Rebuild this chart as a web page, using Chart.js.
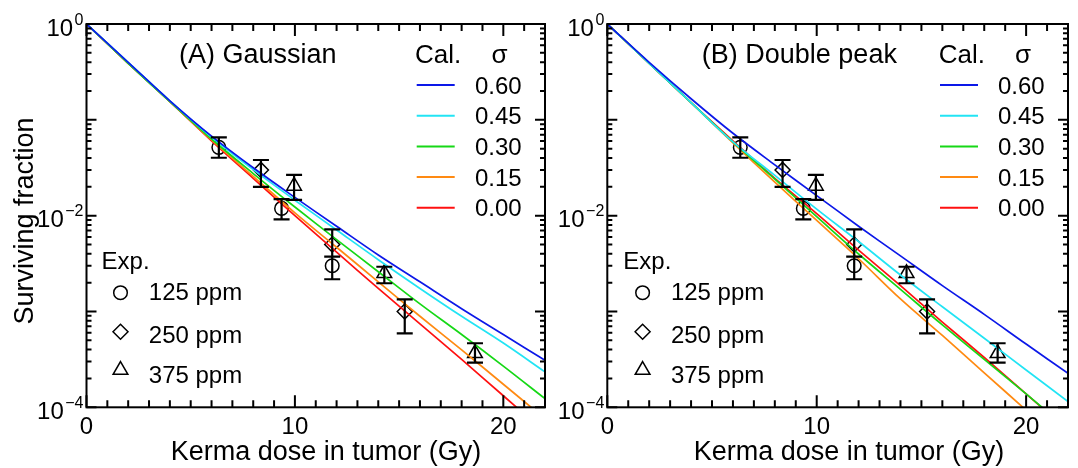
<!DOCTYPE html>
<html>
<head>
<meta charset="utf-8">
<script src="https://cdn.jsdelivr.net/npm/chart.js@4.4.1/dist/chart.umd.min.js"></script>
<style>
html, body { margin: 0; padding: 0; background: #fff; }
#wrap { position: relative; width: 1078px; height: 468px; overflow: hidden; }
.panel { position: absolute; top: 0; height: 468px; }
#pa { left: 0; width: 555px; }
#pb { left: 555px; width: 523px; }
</style>
</head>
<body>
<div id="wrap">
  <div class="panel" id="pa"><canvas id="chartA"></canvas></div>
  <div class="panel" id="pb"><canvas id="chartB"></canvas></div>
</div>
<script>
// kerma dose (Gy) where the calculated curves were read
var dose = [0, 2, 4, 6, 8, 10, 12, 14, 16, 18, 20, 22];
var sigmaLabels = ['0.60', '0.45', '0.30', '0.15', '0.00'];
var sigmaColors = ['#0c18e8', '#22e4f4', '#16d816', '#ff8a12', '#ff1010'];

// (A) Gaussian, surviving fraction per sigma
var gauss060 = [1, 0.398, 0.158, 0.0676, 0.0316, 0.0155, 0.00776, 0.00389, 0.00204, 0.00107, 0.000575, 0.000309];
var gauss045 = [1, 0.398, 0.158, 0.0661, 0.0302, 0.0145, 0.00708, 0.00347, 0.00174, 0.000891, 0.000468, 0.000234];
var gauss030 = [1, 0.389, 0.155, 0.0631, 0.0275, 0.0123, 0.00562, 0.0026, 0.0012, 0.000575, 0.000269, 0.000123];
var gauss015 = [1, 0.389, 0.155, 0.0617, 0.0257, 0.0107, 0.00468, 0.00204, 0.000891, 0.000398, 0.000174, 0.0000759];
var gauss000 = [1, 0.389, 0.155, 0.0603, 0.0245, 0.0100, 0.00417, 0.00174, 0.000741, 0.000316, 0.000132, 0.0000550];

// (B) Double peak
var double060 = [1, 0.398, 0.166, 0.0724, 0.0339, 0.0162, 0.00776, 0.0038, 0.00186, 0.000933, 0.000457, 0.000226];
var double045 = [1, 0.389, 0.151, 0.0589, 0.0263, 0.0117, 0.00537, 0.0024, 0.00112, 0.000525, 0.000245, 0.000115];
var double030 = [1, 0.389, 0.151, 0.0589, 0.0240, 0.00977, 0.00398, 0.0017, 0.000724, 0.000316, 0.000138, 0.0000589];
var double015 = [1, 0.389, 0.151, 0.0575, 0.0224, 0.00891, 0.00355, 0.00135, 0.000562, 0.000229, 0.0000933, 0.000038];
var double000 = [1, 0.389, 0.151, 0.0603, 0.0245, 0.0105, 0.00437, 0.00186, 0.000776, 0.000331, 0.000138, 0.0000575];

// experiments: dose, surviving fraction, error bar low / high
var exp125Dose = [6.35, 9.36, 11.79];
var exp125Sf = [0.0516, 0.0119, 0.0030];
var exp125Lo = [0.0402, 0.00916, 0.00217];
var exp125Hi = [0.0657, 0.0149, 0.00373];

var exp250Dose = [8.37, 11.79, 15.27];
var exp250Sf = [0.030, 0.0050, 0.00100];
var exp250Lo = [0.020, 0.00373, 0.00059];
var exp250Hi = [0.0381, 0.0072, 0.00134];

var exp375Dose = [9.96, 14.29, 18.64];
var exp375Sf = [0.0204, 0.0025, 0.000366];
var exp375Lo = [0.0146, 0.00197, 0.000292];
var exp375Hi = [0.0266, 0.00293, 0.000466];

var expLabels = ['125 ppm', '250 ppm', '375 ppm'];
var expStyles = ['circle', 'rectRot', 'triangle'];
var xTickLabels = [0, 10, 20];
var yTickLabels = [0, -2, -4];

var FONT = "'Liberation Sans', Arial, sans-serif";
var markerRadius = [6.8, 7.5, 8.5];

function pts(xs, ys) {
  return xs.map(function (v, i) { return { x: v, y: ys[i] }; });
}

var expSets = [
  { d: exp125Dose, s: exp125Sf, lo: exp125Lo, hi: exp125Hi },
  { d: exp250Dose, s: exp250Sf, lo: exp250Lo, hi: exp250Hi },
  { d: exp375Dose, s: exp375Sf, lo: exp375Lo, hi: exp375Hi }
];

var decor = {
  id: 'decor',
  afterDatasetsDraw: function (chart) {
    var ctx = chart.ctx, x = chart.scales.x, y = chart.scales.y;
    ctx.save();
    ctx.strokeStyle = '#000';
    ctx.lineWidth = 2.2;
    ctx.beginPath();
    expSets.forEach(function (e) {
      e.d.forEach(function (d, i) {
        var px = x.getPixelForValue(d);
        var y1 = y.getPixelForValue(e.lo[i]), y2 = y.getPixelForValue(e.hi[i]);
        ctx.moveTo(px, y1); ctx.lineTo(px, y2);
        ctx.moveTo(px - 8, y1); ctx.lineTo(px + 8, y1);
        ctx.moveTo(px - 8, y2); ctx.lineTo(px + 8, y2);
      });
    });
    ctx.stroke();
    ctx.restore();
  },
  afterDraw: function (chart, args, o) {
    var ctx = chart.ctx, a = chart.chartArea, x = chart.scales.x, y = chart.scales.y;
    var L = a.left;
    ctx.save();
    ctx.strokeStyle = '#000';
    ctx.lineWidth = 2;
    ctx.beginPath();
    for (var v = 0; v <= 22; v++) {
      var px = x.getPixelForValue(v), len = v % 10 === 0 ? 12 : 7;
      ctx.moveTo(px, a.bottom); ctx.lineTo(px, a.bottom - len);
      ctx.moveTo(px, a.top); ctx.lineTo(px, a.top + len);
    }
    for (var e = -4; e < 0; e++) {
      for (var m = 1; m <= 9; m++) {
        var py = y.getPixelForValue(m * Math.pow(10, e)), ln = m === 1 ? 10 : 5;
        ctx.moveTo(a.left, py); ctx.lineTo(a.left + ln, py);
        ctx.moveTo(a.right, py); ctx.lineTo(a.right - ln, py);
      }
    }
    ctx.stroke();
    ctx.strokeRect(a.left, a.top, a.right - a.left, a.bottom - a.top);

    ctx.fillStyle = '#000';
    // x tick labels
    ctx.font = '24px ' + FONT;
    ctx.textAlign = 'center';
    ctx.textBaseline = 'alphabetic';
    xTickLabels.forEach(function (t) {
      ctx.fillText(String(t), x.getPixelForValue(t), a.bottom + 26.5);
    });
    // y tick labels 10^n
    yTickLabels.forEach(function (n) {
      var py = y.getPixelForValue(Math.pow(10, n));
      var ex = n === 0 ? '0' : '\u2212' + (-n);
      ctx.font = '16px ' + FONT;
      var ew = ctx.measureText(ex).width;
      ctx.textAlign = 'left';
      ctx.fillText(ex, a.left - 3 - ew, py + 0.5);
      ctx.font = '24px ' + FONT;
      ctx.textAlign = 'right';
      ctx.fillText('10', a.left - 4.5 - ew, py + 11.5);
    });
    // axis titles
    ctx.font = '27px ' + FONT;
    ctx.textAlign = 'center';
    ctx.fillText('Kerma dose in tumor (Gy)', L + o.xTitle, 460);
    if (o.yTitle) {
      ctx.save();
      ctx.translate(33, 221);
      ctx.rotate(-Math.PI / 2);
      ctx.fillText('Surviving fraction', 0, 0);
      ctx.restore();
    }
    // panel title and calculated legend
    ctx.textAlign = 'left';
    ctx.fillText(o.title, L + o.titleX, 62.7);
    ctx.font = '26px ' + FONT;
    ctx.fillText('Cal.', L + o.calX, 62.7);
    ctx.textAlign = 'center';
    ctx.fillText('\u03c3', L + o.sigmaX, 62.7);
    ctx.font = '24px ' + FONT;
    ctx.textAlign = 'left';
    sigmaLabels.forEach(function (s, i) {
      var ly = 85 + i * 30.7;
      ctx.strokeStyle = sigmaColors[i];
      ctx.lineWidth = 2;
      ctx.beginPath();
      ctx.moveTo(L + o.lineX, ly); ctx.lineTo(L + o.lineX + 38, ly);
      ctx.stroke();
      ctx.fillText(s, L + o.valX, ly + 8.5);
    });
    // experimental legend
    ctx.fillText('Exp.', L + o.expX, 269.3);
    var my = [292.7, 331.7, 370];
    var ty = [300, 342.7, 383.3];
    expLabels.forEach(function (s, i) {
      Chart.helpers.drawPoint(ctx, {
        pointStyle: expStyles[i], radius: markerRadius[i], rotation: 0, borderWidth: 1.5
      }, L + o.markX, my[i]);
      ctx.fillText(s, L + o.textX, ty[i]);
    });
    ctx.restore();
  }
};

// helper drawPoint needs stroke/fill colours on ctx
var _drawPoint = Chart.helpers.drawPoint;
Chart.helpers.drawPoint = function (ctx, opts, px, py) {
  ctx.save();
  ctx.strokeStyle = '#000';
  ctx.fillStyle = 'rgba(0,0,0,0)';
  ctx.lineWidth = opts.borderWidth;
  _drawPoint(ctx, opts, px, py);
  ctx.restore();
};

function makePanel(id, curves, pad, o) {
  var datasets = curves.map(function (c, i) {
    return {
      type: 'line', label: sigmaLabels[i], data: pts(dose, c),
      borderColor: sigmaColors[i], borderWidth: 1.7, pointRadius: 0,
      tension: 0.35, fill: false
    };
  });
  expSets.forEach(function (e, i) {
    datasets.push({
      type: 'scatter', label: expLabels[i], data: pts(e.d, e.s),
      pointStyle: expStyles[i], pointRadius: markerRadius[i], pointRotation: 0,
      pointBorderColor: '#000', pointBackgroundColor: 'rgba(0,0,0,0)',
      pointBorderWidth: 1.5, showLine: false, clip: false
    });
  });
  return new Chart(document.getElementById(id), {
    type: 'line',
    data: { datasets: datasets },
    options: {
      responsive: true, maintainAspectRatio: false, animation: false,
      devicePixelRatio: 1, events: [],
      layout: { padding: pad },
      plugins: { legend: { display: false }, tooltip: { enabled: false }, decor: o },
      scales: {
        x: { type: 'linear', min: 0, max: 22, display: false },
        y: { type: 'logarithmic', min: 0.0001, max: 1, display: false }
      }
    },
    plugins: [decor]
  });
}

makePanel('chartA', [gauss060, gauss045, gauss030, gauss015, gauss000],
  { left: 86.5, right: 7.7, top: 24, bottom: 60.7 },
  { title: '(A) Gaussian', titleX: 92.5, calX: 328.5, sigmaX: 413, lineX: 330.2, valX: 388.5,
    expX: 15.1, markX: 34, textX: 62.3, xTitle: 239.5, yTitle: true });

makePanel('chartB', [double060, double045, double030, double015, double000],
  { left: 52.3, right: 9.7, top: 24, bottom: 60.7 },
  { title: '(B) Double peak', titleX: 94.5, calX: 331.5, sigmaX: 415.6, lineX: 332.7, valX: 390.7,
    expX: 16, markX: 35.3, textX: 63.6, xTitle: 241.7, yTitle: false });
</script>
</body>
</html>
